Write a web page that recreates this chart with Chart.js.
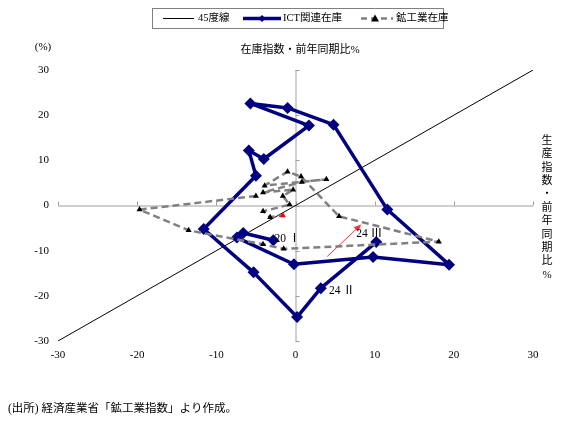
<!DOCTYPE html>
<html lang="ja">
<head>
<meta charset="UTF-8">
<title>ICT関連在庫と鉱工業在庫</title>
<style>
  html, body { margin: 0; padding: 0; background: #fff; }
  #wrap { width: 580px; height: 425px; }
</style>
</head>
<body>
<div id="wrap"><canvas id="chart" width="580" height="425"></canvas></div>
<script src="https://cdn.jsdelivr.net/npm/chart.js"></script>
<script>
// x = 生産指数・前年同期比%, y = 在庫指数・前年同期比%
const quarters = ['20Ⅰ','20Ⅱ','20Ⅲ','20Ⅳ','21Ⅰ','21Ⅱ','21Ⅲ','21Ⅳ','22Ⅰ','22Ⅱ','22Ⅲ','22Ⅳ',
                  '23Ⅰ','23Ⅱ','23Ⅲ','23Ⅳ','24Ⅰ','24Ⅱ','24Ⅲ'];

const ictX = [-2.8, -6.6, -7.4, -0.2, 9.8, 19.4, 11.6, 4.8, -1.0, -5.7, 1.7, -4.0,
              -5.9, -5.0, -11.6, -5.3, 0.2, 3.2, 10.2];
const ictY = [-7.7, -6.1, -7.1, -13.0, -11.4, -13.1, -0.9, 17.9, 21.6, 22.6, 17.7, 10.3,
              12.2, 6.6, -5.2, -14.8, -24.7, -18.3, -8.1];

const mineX = [-5.0, -19.7, -13.5, -4.1, -1.5, 18.1, 5.5, 0.7, -1.0, -3.9, 3.9, 0.8,
               -4.1, -0.3, -1.6, -0.75, -4.1, -3.2, -1.6];
const mineY = [2.1, -0.9, -5.5, -8.6, -9.6, -8.0, -2.4, 6.4, 7.5, 4.4, 5.8, 5.2,
               2.9, 3.5, 2.1, 0.2, -1.3, -2.6, -2.2];

const lineX = [-30, 30];
const lineY = [-30, 30];

const axisTicks = [-30, -20, -10, 0, 10, 20, 30];

// quarter labels shown on the ICT series
const pointLabels = [
  { idx: 0, text: '20 Ⅰ', dx: 14, dy: -1 },
  { idx: 17, text: '24 Ⅱ', dx: 21, dy: 3 },
  { idx: 18, text: '24 Ⅲ', dx: -7, dy: -8 }
];
// red arrow (data coordinates)
const arrowFrom = [4.0, -11.3];
const arrowTo = [8.3, -4.2];

const FONT = '"Liberation Serif", "Noto Sans CJK JP", serif';
const NAVY = '#000080';
const GRAY = '#808080';

function pts(xs, ys) { return xs.map((x, i) => ({ x: x, y: ys[i] })); }

const mineColors = mineX.map((v, i) => i === mineX.length - 1 ? '#ff0000' : '#000000');

const decor = {
  id: 'decor',
  beforeDatasetsDraw(chart) {
    const c = chart.ctx, xs = chart.scales.x, ys = chart.scales.y;
    const x0 = xs.getPixelForValue(0), y0 = ys.getPixelForValue(0);
    c.save();
    c.strokeStyle = '#a0a0a0';
    c.lineWidth = 1;
    c.beginPath();
    c.moveTo(xs.left, y0 + 0.5); c.lineTo(xs.right, y0 + 0.5);
    c.moveTo(x0 + 0.5, ys.top); c.lineTo(x0 + 0.5, ys.bottom);
    axisTicks.forEach(v => {
      const px = Math.round(xs.getPixelForValue(v)) + 0.5;
      c.moveTo(px, y0); c.lineTo(px, y0 - 4);
      const py = Math.round(ys.getPixelForValue(v)) + 0.5;
      c.moveTo(x0, py); c.lineTo(x0 + 4, py);
    });
    c.stroke();
    c.restore();
  },
  afterDatasetsDraw(chart) {
    const c = chart.ctx, xs = chart.scales.x, ys = chart.scales.y;
    c.save();
    // arrow
    const ax = xs.getPixelForValue(arrowFrom[0]), ay = ys.getPixelForValue(arrowFrom[1]);
    const bx = xs.getPixelForValue(arrowTo[0]), by = ys.getPixelForValue(arrowTo[1]);
    const ang = Math.atan2(by - ay, bx - ax);
    c.strokeStyle = '#ff3030'; c.fillStyle = '#ff3030'; c.lineWidth = 1;
    c.beginPath(); c.moveTo(ax, ay); c.lineTo(bx - 5 * Math.cos(ang), by - 5 * Math.sin(ang)); c.stroke();
    c.beginPath();
    c.moveTo(bx, by);
    c.lineTo(bx - 8 * Math.cos(ang - 0.4), by - 8 * Math.sin(ang - 0.4));
    c.lineTo(bx - 8 * Math.cos(ang + 0.4), by - 8 * Math.sin(ang + 0.4));
    c.closePath(); c.fill();
    // quarter labels
    c.fillStyle = '#000';
    c.font = '11.5px ' + FONT;
    c.textAlign = 'center'; c.textBaseline = 'middle';
    pointLabels.forEach(l => {
      const px = xs.getPixelForValue(ictX[l.idx]) + l.dx;
      const py = ys.getPixelForValue(ictY[l.idx]) + l.dy;
      c.fillText(l.text, px, py);
    });
    c.restore();
  },
  afterDraw(chart) {
    const c = chart.ctx;
    c.save();
    c.fillStyle = '#000';
    c.font = '11px ' + FONT;
    c.textBaseline = 'middle';
    c.textAlign = 'center';
    c.fillText('(%)', 43, 47);
    c.fillText('在庫指数・前年同期比%', 300, 50);
    const vt = '生産指数・前年同期比%';
    [...vt].forEach((ch, i) => c.fillText(ch, 547, 141 + i * 13.4));
    c.textAlign = 'left';
    c.font = '11.5px ' + FONT;
    c.fillText('(出所) 経済産業省「鉱工業指数」より作成。', 8, 409);

    // legend
    c.strokeStyle = '#808080'; c.lineWidth = 1;
    c.strokeRect(152.5, 8.5, 291, 20);
    const ly = 18.5;
    c.font = '10.5px ' + FONT;
    c.strokeStyle = '#000'; c.lineWidth = 1;
    c.beginPath(); c.moveTo(163, ly); c.lineTo(194, ly); c.stroke();
    c.fillText('45度線', 198, ly);
    c.strokeStyle = NAVY; c.lineWidth = 3.5;
    c.beginPath(); c.moveTo(243, ly); c.lineTo(281, ly); c.stroke();
    c.fillStyle = NAVY;
    c.beginPath(); c.moveTo(262, ly - 3.5); c.lineTo(265.5, ly); c.lineTo(262, ly + 3.5); c.lineTo(258.5, ly); c.closePath(); c.fill();
    c.fillStyle = '#000';
    c.fillText('ICT関連在庫', 283, ly);
    c.strokeStyle = GRAY; c.lineWidth = 2.5; c.setLineDash([6, 4]);
    c.beginPath(); c.moveTo(361, ly); c.lineTo(393, ly); c.stroke();
    c.setLineDash([]);
    c.beginPath(); c.moveTo(375, ly - 4); c.lineTo(379, ly + 3); c.lineTo(371, ly + 3); c.closePath(); c.fill();
    c.fillText('鉱工業在庫', 396, ly);
    c.restore();
  }
};

new Chart(document.getElementById('chart').getContext('2d'), {
  type: 'scatter',
  data: {
    datasets: [
      {
        label: '45度線',
        data: pts(lineX, lineY),
        showLine: true,
        borderColor: '#000',
        borderWidth: 1,
        pointRadius: 0,
        order: 3
      },
      {
        label: '鉱工業在庫',
        data: pts(mineX, mineY),
        showLine: true,
        borderColor: GRAY,
        borderWidth: 2.5,
        borderDash: [7, 4],
        borderJoinStyle: 'round',
        pointStyle: 'triangle',
        pointRadius: 3.5,
        pointBackgroundColor: mineColors,
        pointBorderColor: mineColors,
        pointBorderWidth: 0,
        order: 1
      },
      {
        label: 'ICT関連在庫',
        data: pts(ictX, ictY),
        showLine: true,
        borderColor: NAVY,
        borderWidth: 3.5,
        borderJoinStyle: 'round',
        borderCapStyle: 'round',
        pointStyle: 'rectRot',
        pointRadius: 6,
        pointBackgroundColor: NAVY,
        pointBorderColor: NAVY,
        pointBorderWidth: 0,
        order: 2
      }
    ]
  },
  options: {
    responsive: false,
    animation: false,
    layout: { padding: { left: 0, right: 47, top: 70, bottom: 64 } },
    plugins: {
      legend: { display: false },
      tooltip: { enabled: false }
    },
    scales: {
      x: {
        type: 'linear',
        min: -30, max: 30,
        border: { display: false },
        grid: { display: false, drawTicks: false },
        afterBuildTicks: s => { s.ticks = axisTicks.map(v => ({ value: v })); },
        afterFit: s => { s.height = 20; },
        ticks: { color: '#000', padding: 8, font: { family: FONT, size: 11 } }
      },
      y: {
        type: 'linear',
        min: -30, max: 30,
        border: { display: false },
        grid: { display: false, drawTicks: false },
        afterBuildTicks: s => { s.ticks = axisTicks.map(v => ({ value: v })); },
        afterFit: s => { s.width = 58; },
        ticks: { color: '#000', padding: 9, font: { family: FONT, size: 11 } }
      }
    }
  },
  plugins: [decor]
});
</script>
</body>
</html>
